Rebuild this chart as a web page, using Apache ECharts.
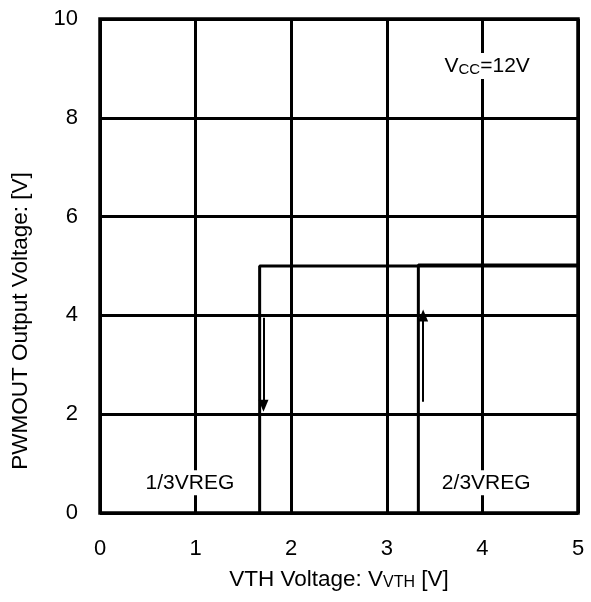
<!DOCTYPE html>
<html><head><meta charset="utf-8">
<script src="https://cdn.jsdelivr.net/npm/echarts@6/dist/echarts.min.js"></script>
<style>html,body{margin:0;padding:0;background:#fff}#c{width:591px;height:602px}</style>
</head><body><div id="c"></div>
<script>
// Tick settings
const xTicks = [0, 1, 2, 3, 4, 5];
const yTicks = [0, 2, 4, 6, 8, 10];
// Hysteresis paths (x = VTH voltage [V], y = PWMOUT voltage [V])
const lowPathX = [1.67, 1.67, 5];
const lowPathY = [0, 5, 5];
const highPathX = [3.33, 3.33, 5];
const highPathY = [0, 5.02, 5.02];
// Arrows [x, yFrom, yTo]
const fallArrow = [1.71, 3.95, 2.17];
const riseArrow = [3.38, 2.25, 4.0];
// Annotations
const noteTexts = ['1/3VREG', '2/3VREG', 'V{s|CC}=12V'];
const noteX = [0.94, 4.04, 4.05];
const noteY = [0.61, 0.61, 9.05];

const chart = echarts.init(document.getElementById('c'), null, {renderer: 'canvas'});
const font = 'Liberation Sans, Arial, sans-serif';
const zip = (xs, ys) => xs.map((x, i) => [x, ys[i]]);
const arrowLine = a => [{coord: [a[0], a[1]]}, {coord: [a[0], a[2]]}];
const subStyle = {fontSize: 15, verticalAlign: 'bottom', padding: [7, 0, 0, 0], color: '#000', fontFamily: font};

chart.setOption({
  animation: false,
  grid: {left: 100, right: 13, top: 19, bottom: 89, show: true, borderColor: '#000', borderWidth: 3.5, backgroundColor: 'transparent'},
  xAxis: {
    type: 'value', min: xTicks[0], max: xTicks[xTicks.length - 1], interval: 1,
    axisLine: {show: false}, axisTick: {show: false},
    splitLine: {show: true, lineStyle: {color: '#000', width: 3}},
    axisLabel: {margin: 25, fontSize: 22, color: '#000', fontFamily: font},
    name: 'VTH Voltage: V{s|VTH} [V]', nameLocation: 'middle', nameGap: 55,
    nameTextStyle: {fontSize: 22.5, color: '#000', fontFamily: font, rich: {s: Object.assign({}, subStyle, {fontSize: 16})}}
  },
  yAxis: {
    type: 'value', min: yTicks[0], max: yTicks[yTicks.length - 1], interval: 2,
    axisLine: {show: false}, axisTick: {show: false},
    splitLine: {show: true, lineStyle: {color: '#000', width: 3}},
    axisLabel: {margin: 22, fontSize: 22, color: '#000', fontFamily: font},
    name: 'PWMOUT Output Voltage: [V]', nameLocation: 'middle', nameGap: 68,
    nameTextStyle: {fontSize: 22.5, color: '#000', fontFamily: font, padding: [0, 110, 0, 0]}
  },
  series: [
    {type: 'line', data: zip(lowPathX, lowPathY), symbol: 'none', lineStyle: {color: '#000', width: 3}, z: 3},
    {type: 'line', data: zip(highPathX, highPathY), symbol: 'none', lineStyle: {color: '#000', width: 3}, z: 3,
      markLine: {silent: true, symbol: ['none', 'triangle'], symbolSize: [10, 12], label: {show: false},
        lineStyle: {color: '#000', width: 2, type: 'solid'},
        data: [arrowLine(fallArrow), arrowLine(riseArrow)]}},
    {type: 'scatter', symbolSize: 0, z: 5, itemStyle: {opacity: 1},
      data: noteTexts.map((t, i) => ({value: [noteX[i], noteY[i]], name: t})),
      label: {show: true, position: 'inside', formatter: p => p.name, fontSize: 21, color: '#000', fontFamily: font,
        backgroundColor: '#fff', padding: [2, 3], opacity: 1,
        rich: {s: subStyle}}}
  ]
});
</script></body></html>
